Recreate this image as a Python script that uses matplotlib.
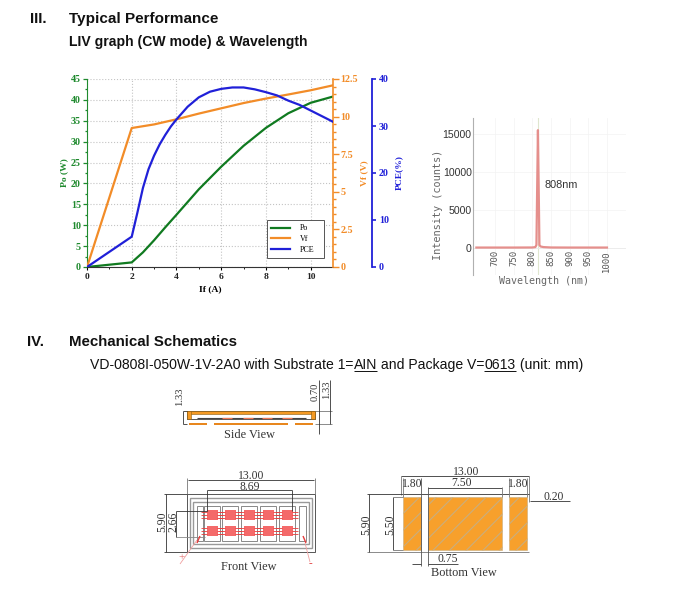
import numpy as np
import matplotlib
matplotlib.use("Agg")
import matplotlib.pyplot as plt
from matplotlib.patches import Rectangle

W, H = 677, 606

# LIV curves
po_x = [0, 2, 2.5, 3, 3.5, 4, 5, 6, 7, 8, 9, 10, 11]
po_y = [0, 1.1, 3.5, 6.4, 9.5, 12.5, 18.6, 24, 29, 33.3, 36.8, 39.3, 40.8]
vf_x = [0, 2, 3, 4, 5, 6, 7, 8, 9, 10, 11]
vf_y = [0, 9.24, 9.48, 9.82, 10.2, 10.55, 10.9, 11.2, 11.47, 11.75, 12.08]
pce_x = [0, 2, 2.25, 2.5, 2.75, 3, 3.25, 3.5, 3.75, 4, 4.5, 5, 5.5, 6, 6.5, 7, 7.5, 8, 8.5, 9, 9.5, 10, 10.5, 11]
pce_y = [0, 6.45, 11.5, 16.8, 20.8, 23.7, 26.1, 28.1, 29.9, 31.4, 34.1, 36.1, 37.3, 37.9, 38.2, 38.2, 37.8,
         37.2, 36.5, 35.4, 34.5, 33.3, 32.1, 30.9]

# spectrum
wl = [650, 700, 750, 800, 808, 811, 813, 815, 817, 819, 822, 830, 850, 900, 950, 1000]
counts = [60, 60, 60, 70, 120, 400, 8000, 15500, 8000, 400, 200, 120, 70, 60, 60, 60]

C_PO = "#1f8a2e"
C_VF = "#f28c28"
C_PCE = "#2020d8"
SERIF = "Liberation Serif"
SANS = "Liberation Sans"

plt.rcParams["hatch.color"] = "#ffe8c8"
plt.rcParams["hatch.linewidth"] = 0.8


def px_axes(fig, left, top, right, bottom):
    return fig.add_axes([left / W, 1 - bottom / H, (right - left) / W, (bottom - top) / H])


fig = plt.figure(figsize=(W / 100, H / 100), dpi=100, facecolor="white")

# main LIV chart
ax = px_axes(fig, 87, 79, 333, 267)
ax.set_xlim(0, 11)
ax.set_ylim(0, 45)
ax.set_xticks([0, 2, 4, 6, 8, 10])
ax.set_xticks(np.arange(0, 11, 1), minor=True)
ax.set_yticks(np.arange(0, 46, 5))
ax.set_yticks(np.arange(0, 45, 2.5), minor=True)
ax.grid(True, color="#c4c4c4", ls=":", lw=0.8)
ax.set_axisbelow(True)
for s in ["top", "right"]:
    ax.spines[s].set_visible(False)
ax.spines["left"].set_color(C_PO)
ax.spines["bottom"].set_color("#333333")
ax.tick_params(axis="y", which="both", colors=C_PO, length=3, width=0.9, pad=1.5)
ax.tick_params(axis="y", which="minor", length=1.5)
ax.tick_params(axis="x", which="major", length=2.5, width=0.8, pad=1.5)
ax.tick_params(axis="x", which="minor", length=1.5, width=0.6)
for t in ax.get_yticklabels():
    t.set(family=SERIF, fontsize=7.2, fontweight="bold", color=C_PO)
for t in ax.get_xticklabels():
    t.set(family=SERIF, fontsize=6.8, fontweight="bold", color="#222222")
ax.set_xlabel("If (A)", family=SERIF, fontsize=6.8, fontweight="bold", labelpad=3)
ax.set_ylabel("Po (W)", family=SERIF, fontsize=6.8, fontweight="bold", color=C_PO, labelpad=2)
l_po, = ax.plot(po_x, po_y, color="#107a20", lw=1.6)

ax_vf = ax.twinx()
ax_vf.set_ylim(0, 12.5)
ax_vf.set_yticks([0, 2.5, 5, 7.5, 10, 12.5])
ax_vf.set_yticklabels(["0", "2.5", "5", "7.5", "10", "12.5"])
ax_vf.set_yticks(np.arange(0, 12.5, 0.5), minor=True)
for s in ["top", "left", "bottom"]:
    ax_vf.spines[s].set_visible(False)
ax_vf.spines["right"].set_color(C_VF)
ax_vf.spines["right"].set_linewidth(1.2)
ax_vf.tick_params(axis="y", which="both", colors=C_VF, length=4, width=1, pad=1.5)
ax_vf.tick_params(axis="y", which="minor", length=2)
for t in ax_vf.get_yticklabels():
    t.set(family=SERIF, fontsize=7.2, fontweight="bold", color=C_VF)
ax_vf.set_ylabel("Vf (V)", family=SERIF, fontsize=6.8, fontweight="bold", color=C_VF)
ax_vf.yaxis.set_label_coords(1.11, 0.5)
l_vf, = ax_vf.plot(vf_x, vf_y, color=C_VF, lw=1.6)

ax_pce = ax.twinx()
ax_pce.spines["right"].set_position(("outward", 28))
ax_pce.set_ylim(0, 40)
ax_pce.set_yticks(np.arange(0, 41, 10))
for s in ["top", "left", "bottom"]:
    ax_pce.spines[s].set_visible(False)
ax_pce.spines["right"].set_color(C_PCE)
ax_pce.spines["right"].set_linewidth(1.3)
ax_pce.tick_params(axis="y", colors=C_PCE, length=3, width=1.2, pad=2)
for t in ax_pce.get_yticklabels():
    t.set(family=SERIF, fontsize=7.2, fontweight="bold", color=C_PCE)
ax_pce.set_ylabel("PCE(%)", family=SERIF, fontsize=6.8, fontweight="bold", color=C_PCE)
ax_pce.yaxis.set_label_coords(1.25, 0.5)
l_pce, = ax_pce.plot(pce_x, pce_y, color=C_PCE, lw=1.6)

leg = ax_pce.legend([l_po, l_vf, l_pce], ["Po", "Vf", "PCE"], loc="lower left",
                    bbox_to_anchor=(180 / 246, 9 / 188, 57 / 246, 37 / 188), mode="expand",
                    prop={"family": SERIF, "size": 5.8}, fancybox=False, framealpha=1,
                    edgecolor="#555555", borderaxespad=0, handlelength=2.4, labelspacing=0.35,
                    borderpad=0.5, handletextpad=1.2)
leg.get_frame().set_linewidth(0.7)

# spectrum
ax_s = px_axes(fig, 473, 118, 626, 275)
ax_s.set_xlim(641, 1051)
ax_s.set_ylim(-3550, 17100)
ax_s.plot(wl, counts, color="#e58f8c", lw=1.6)
ax_s.axvline(815, color="#dfe6cf", lw=0.8, zorder=0)
ax_s.axhline(0, color="#d8d8d8", lw=0.6, zorder=0)
ax_s.grid(True, color="#f3f3f3", lw=0.5)
ax_s.set_axisbelow(True)
ax_s.set_xticks(np.arange(700, 1001, 50))
ax_s.set_yticks([0, 5000, 10000, 15000])
for s in ["top", "right", "bottom"]:
    ax_s.spines[s].set_visible(False)
ax_s.spines["left"].set_color("#b0b0b0")
ax_s.tick_params(axis="y", length=0, colors="#444444", pad=1)
ax_s.tick_params(axis="x", length=0, colors="#444444", pad=-18)
for t in ax_s.get_xticklabels():
    t.set(family="DejaVu Sans Mono", fontsize=6.4, rotation=90, color="#555555")
for t in ax_s.get_yticklabels():
    t.set(family=SANS, fontsize=7.6, color="#333333")
ax_s.set_xlabel("Wavelength (nm)", family="DejaVu Sans Mono", fontsize=7.2, color="#666666")
ax_s.xaxis.set_label_coords(0.465, -0.005)
ax_s.set_ylabel("Intensity (counts)", family="DejaVu Sans Mono", fontsize=7.4, color="#666666")
ax_s.yaxis.set_label_coords(-0.195, 0.446)
ax_s.text(876, 8290, "808nm", family=SANS, fontsize=7.8, color="#333333", ha="center", va="center")

# overlay in pixel coordinates for headings and drawings
ov = fig.add_axes([0, 0, 1, 1], zorder=10)
ov.set_xlim(0, W)
ov.set_ylim(H, 0)
ov.axis("off")
ov.patch.set_alpha(0)


def label(x, y, s, size=8.4, rot=0, color="#333333", ha="center", family=SERIF):
    return ov.text(x, y, s, fontsize=size, rotation=rot, color=color, ha=ha, va="center", family=family)


def head(x, y, s, size=10):
    return ov.text(x, y, s, family=SANS, fontsize=size, fontweight="bold",
                   color="#111111", ha="left", va="center")


def line(xs, ys, color="#333333", lw=0.6):
    ov.plot(xs, ys, color=color, lw=lw, solid_capstyle="butt")


def box(x0, y0, x1, y1, fc="none", ec="#888888", lw=0.7, **kw):
    ov.add_patch(Rectangle((x0, y0), x1 - x0, y1 - y0, facecolor=fc, edgecolor=ec, linewidth=lw, **kw))


head(30, 19, "III.", 10.8)
head(69, 19, "Typical Performance", 11)
head(69, 42, "LIV graph (CW mode) & Wavelength", 10.1)
head(27, 342, "IV.", 10.8)
head(69, 342, "Mechanical Schematics", 10.8)

# spec line, with underlined parts placed after each other
rend = fig.canvas.get_renderer()
x = 90
for part, under in [("VD-0808I-050W-1V-2A0 with Substrate 1=", False), ("AIN", True),
                    (" and Package V=", False), ("0613", True), (" (unit: mm)", False)]:
    t = ov.text(x, 365, part.replace(" ", "\u00a0"), family=SANS, fontsize=10.1, color="#111111",
                ha="left", va="center")
    wd = t.get_window_extent(rend).width
    if under:
        line([x, x + wd], [371, 371], color="#111111", lw=0.7)
    x += wd

# side view
ORANGE = "#f59a23"
box(187, 411, 315, 419, fc="white", ec="#555555")
box(187, 411, 315, 414, fc=ORANGE, ec="#8a5a10", lw=0.4)
box(187, 411, 191, 419, fc=ORANGE, ec="#8a5a10", lw=0.4)
box(311, 411, 315, 419, fc=ORANGE, ec="#8a5a10", lw=0.4)
line([197, 306], [418, 418], color="#444444", lw=0.8)
for x0, x1 in zip([222, 243, 262, 282], [232, 253, 272, 292]):
    line([x0, x1], [418, 418], color="#ee7755", lw=0.9)
for x0, x1 in zip([189, 214, 295], [207, 288, 313]):
    box(x0, 422.5, x1, 424.5, fc="#e8871e", ec="none")
line([183, 187], [411, 411])
line([183, 187], [424, 424])
line([183, 183], [411, 424])
line([315, 332], [411, 411], color="#777777")
line([315, 332], [424, 424], color="#777777")
line([319, 319], [380, 434])
line([330, 330], [380, 424])
label(180, 397, "1.33", size=7.6, rot=90)
label(315, 392, "0.70", size=7.6, rot=90)
label(327, 390, "1.33", size=7.6, rot=90)
label(250, 435, "Side View", size=8.8)

# front view
box(187, 494, 315, 552, ec="#555555")
box(190, 498, 312, 548, ec="#999999", lw=1)
box(193, 502, 309, 544, ec="#999999", lw=1)
box(197, 506, 203, 541, ec="#888888")
box(299, 506, 306, 541, ec="#888888")
RED = "#f46a6a"
chip_cols = [212, 230, 249, 268, 287]
chip_rows = [515, 531]
for cx in chip_cols:
    box(cx - 8, 506, cx + 8, 541, ec="#888888")
    for cy in chip_rows:
        box(cx - 5.5, cy - 5, cx + 5.5, cy + 5, fc=RED, ec="none")
        for dy in (-3, 0, 3):
            line([cx - 11, cx - 5], [cy + dy, cy + dy], color="#e63c3c", lw=0.6)
            line([cx + 5, cx + 11], [cy + dy, cy + dy], color="#e63c3c", lw=0.6)
line([188, 314], [480, 480])
line([207, 292], [490, 490])
label(251, 476, "13.00")
label(250, 487, "8.69")
line([187, 187], [478, 494], color="#777777")
line([315, 315], [478, 494], color="#777777")
line([207, 207], [490, 511])
line([292, 292], [490, 511])
line([164, 187], [494, 494])
line([164, 187], [552, 552])
line([166, 166], [494, 552])
label(162, 522, "5.90", rot=90)
line([176, 207], [511, 511])
line([176, 205], [537, 537], color="#888888")
line([176, 176], [511, 537])
label(173, 522, "2.66", rot=90)
line([180, 197], [564, 540], color="#f0a0a0")
line([200, 197], [536, 543], color="#e63c3c", lw=1)
line([303, 306], [536, 543], color="#e63c3c", lw=1)
line([305, 310], [543, 562], color="#f0a0a0")
label(182, 558, "+", size=8, color="#e06060")
label(310, 564, "-", size=8, color="#e03030")
label(249, 567, "Front View", size=8.8)

# bottom view
pads_x = [(403, 421), (428, 502), (509, 527)]
for x0, x1 in pads_x:
    ov.add_patch(Rectangle((x0, 497), x1 - x0, 53, facecolor="#f7a02c", edgecolor="#c9ad7f",
                           linewidth=0.4, hatch="//"))
line([401, 529], [476, 476])
line([401, 401], [476, 495], color="#777777")
line([529, 529], [476, 502], color="#777777")
line([367, 529], [494, 494])
line([367, 529], [552, 552], color="#777777")
line([369, 369], [494, 552])
line([393, 393], [497, 550])
line([393, 403], [497, 497], color="#777777")
line([393, 403], [550, 550], color="#777777")
line([403, 403], [478, 497], color="#777777")
line([421, 421], [478, 566], color="#555555")
line([428, 428], [487, 566], color="#555555")
line([428, 502], [488, 488])
line([502, 502], [487, 497], color="#777777")
line([509, 509], [478, 497], color="#777777")
line([527, 527], [478, 497], color="#777777")
line([412, 421], [564, 564])
line([428, 458], [564, 564])
line([530, 570], [501, 501])
label(466, 472, "13.00")
label(412, 484, "1.80")
label(462, 483, "7.50")
label(518, 484, "1.80")
label(554, 497, "0.20")
label(366, 525, "5.90", rot=90)
label(390, 525, "5.50", rot=90)
label(448, 559, "0.75")
label(464, 573, "Bottom View", size=8.8)

fig.savefig("out.png", dpi=100)
